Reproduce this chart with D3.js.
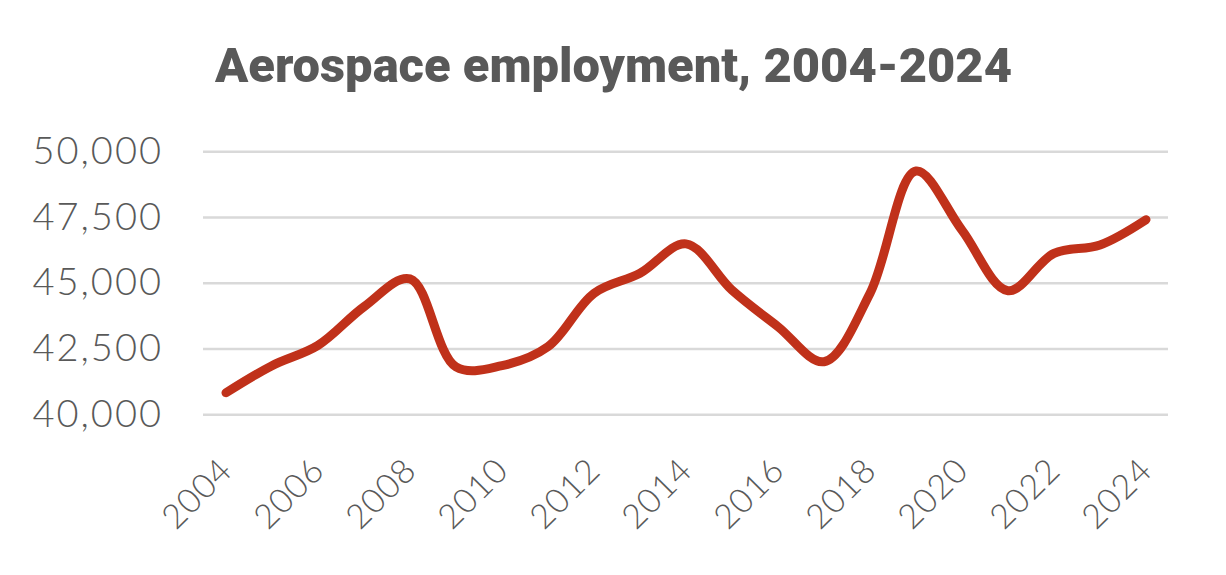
<!DOCTYPE html>
<html><head><meta charset="utf-8">
<script src="https://cdn.jsdelivr.net/npm/d3@7"></script>
<style>body{margin:0;background:#fff}</style>
</head><body>
<svg id="chart" width="1226" height="575"></svg>
<script>
const years = [2004,2005,2006,2007,2008,2009,2010,2011,2012,2013,2014,2015,2016,2017,2018,2019,2020,2021,2022,2023,2024];
const employment = [40820,41850,42620,44090,45150,41800,41850,42570,44600,45360,46480,44720,43330,42000,44600,49250,47000,44700,46120,46440,47400];
const yTicks = [40000,42500,45000,47500,50000];
const xTickLabels = ["2004","2006","2008","2010","2012","2014","2016","2018","2020","2022","2024"];

(function(){
const svg = d3.select("#chart");
const pL = 203, pR = 1169, pT = 151.3, pB = 414.3;
const x = d3.scalePoint().domain(years.map(String)).range([pL, pR]).padding(0.5);
const y = d3.scaleLinear().domain([40000, 50000]).range([pB, pT]);
const grey = "#595959";

svg.append("text").attr("x", 215).attr("y", 82)
  .attr("font-family", "Roboto, sans-serif")
  .attr("font-weight", 900).attr("font-size", 48).attr("fill", grey)
  .attr("textLength", 797).attr("lengthAdjust", "spacingAndGlyphs")
  .text("Aerospace employment, 2004-2024");

const yAxis = d3.axisLeft(y).tickValues(yTicks).tickSize(-(pR - pL)).tickFormat(d3.format(","));
const gy = svg.append("g").attr("transform", `translate(${pL},0)`).call(yAxis);
gy.select(".domain").remove();
gy.selectAll(".tick line").attr("stroke", "#d9d9d9").attr("stroke-width", 2.5).attr("x2", pR - pL - 1);
gy.selectAll(".tick text").attr("x", -40).attr("fill", grey)
  .attr("font-family", "Lato, sans-serif").attr("font-weight", 300).attr("font-size", 38)
  .attr("letter-spacing", 2);

const xAxis = d3.axisBottom(x).tickValues(xTickLabels).tickSize(0);
const gx = svg.append("g").attr("transform", `translate(0,${pB})`).call(xAxis);
gx.select(".domain").remove();
gx.selectAll(".tick text").attr("fill", grey).attr("font-family", "Lato, sans-serif")
  .attr("font-weight", 300).attr("font-size", 34).attr("letter-spacing", 1)
  .attr("text-anchor", "end").attr("dy", 0).attr("y", 0)
  .attr("transform", "translate(8,58) rotate(-45)");

const line = d3.line().x((d, i) => x(String(years[i]))).y(d => y(d)).curve(d3.curveCatmullRom.alpha(0.5));
svg.append("path").datum(employment).attr("d", line).attr("fill", "none")
  .attr("stroke", "#C0311A").attr("stroke-width", 9).attr("stroke-linecap", "round").attr("stroke-linejoin", "round");
})();
</script>
</body></html>
